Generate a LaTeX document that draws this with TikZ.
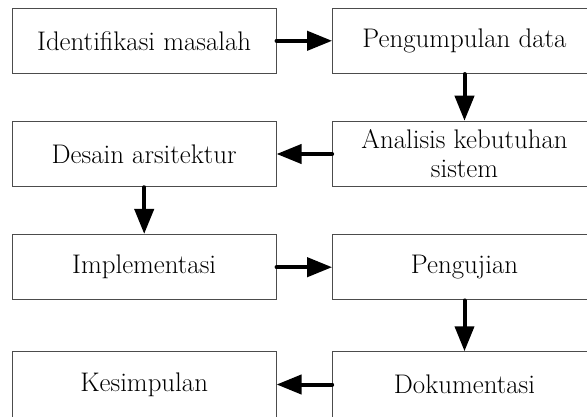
\documentclass[tikz,border=0pt]{standalone}
\usepackage{fontspec}
\usetikzlibrary{arrows.meta}

\begin{document}
\begin{tikzpicture}[x=1pt,y=-1pt,
  tahap/.style={draw=black!70,line width=1pt,minimum width=263.7pt,minimum height=65.5pt,
    inner sep=0pt,align=center,font=\fontsize{26.9}{29}\selectfont},
  panah/.style={line width=4pt,line cap=round,-{Triangle[length=25pt,width=19pt]}}]
\clip (0,0) rectangle (587,417); % The visible part of the page.

\node[tahap] (identifikasi) at (144.2,40.8) {Identifikasi masalah};
\node[tahap] (pengumpulan) at (464.5,40.8) {Pengumpulan data};
\node[tahap] (desain) at (144.2,154) {Desain arsitektur};
\node[tahap] (analisis) at (464.5,154) {Analisis kebutuhan\\sistem};
\node[tahap] (implementasi) at (144.2,267.2) {Implementasi};
\node[tahap] (pengujian) at (464.5,267.2) {Pengujian};
\node[tahap] (kesimpulan) at (144.2,384.5) {Kesimpulan};
\node[tahap] (dokumentasi) at (464.5,384.5) {Dokumentasi};

\draw[panah] (identifikasi) -- (pengumpulan);
\draw[panah] (pengumpulan) -- (analisis);
\draw[panah] (analisis) -- (desain);
\draw[panah] (desain) -- (implementasi);
\draw[panah] (implementasi) -- (pengujian);
\draw[panah] (pengujian) -- (dokumentasi);
\draw[panah] (dokumentasi) -- (kesimpulan);
\end{tikzpicture}
\end{document}
